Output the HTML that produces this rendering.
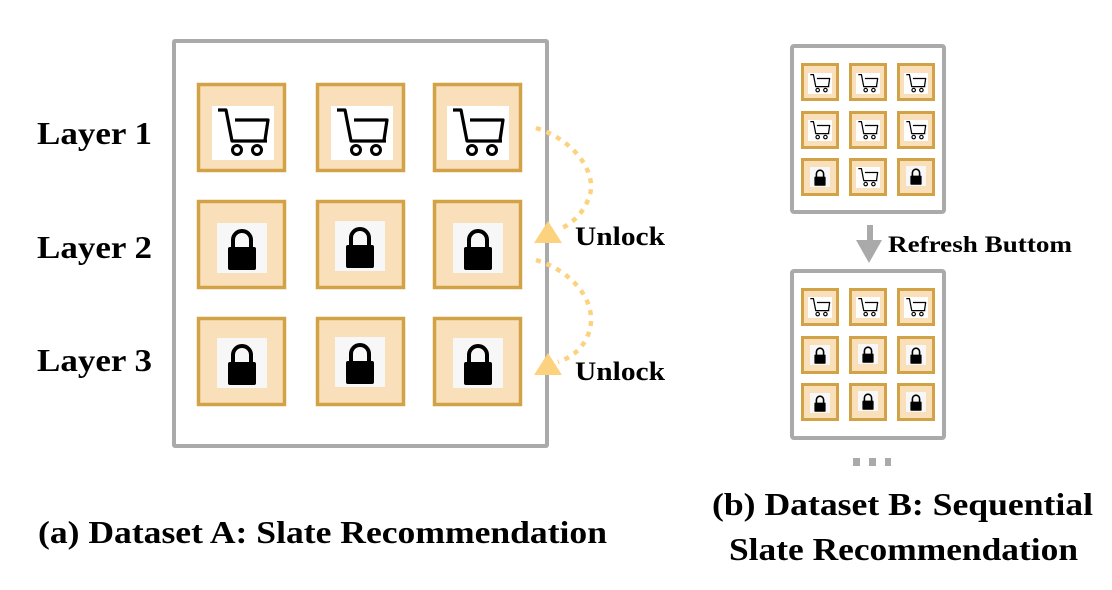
<!DOCTYPE html>
<html><head><meta charset="utf-8"><style>
html,body{margin:0;padding:0;background:#fff;}
svg{display:block;}
text{font-family:"Liberation Serif",serif;font-weight:bold;fill:#000;}
</style></head><body>
<svg width="1112" height="590" viewBox="0 0 1112 590" xmlns="http://www.w3.org/2000/svg">
<defs>
<symbol id="cart" viewBox="0 0 62 54">
<rect width="62" height="54" fill="#fff"/>
<path d="M6,4 H14 L20,35 H55 M23,14 H56 L53,34" fill="none" stroke="#000" stroke-width="3.2" stroke-linejoin="round"/>
<circle cx="25" cy="44" r="4.5" fill="none" stroke="#000" stroke-width="3"/>
<circle cx="45" cy="44" r="4.5" fill="none" stroke="#000" stroke-width="3"/>
</symbol>
<symbol id="lock" viewBox="0 0 50 50">
<rect width="50" height="50" fill="#f7f7f7"/>
<path d="M16,25 V17 A9,9 0 0 1 34,17 V25" fill="none" stroke="#000" stroke-width="4"/>
<rect x="11" y="24" width="28" height="23" rx="2" fill="#000"/>
</symbol>
<g id="bt"><rect x="1.5" y="1.5" width="86" height="86" fill="#fadfbb" stroke="#d1a346" stroke-width="3.5"/></g>
<g id="st"><rect x="1.5" y="1.5" width="35" height="35" fill="#fadfbb" stroke="#d1a346" stroke-width="3"/></g>
</defs>

<rect x="174" y="41" width="373" height="405" fill="none" stroke="#aaa" stroke-width="4" rx="1"/>
<g>
<use href="#bt" x="197" y="83"/><use href="#cart" x="212" y="106" width="62" height="54"/>
<use href="#bt" x="316" y="83"/><use href="#cart" x="331" y="106" width="62" height="54"/>
<use href="#bt" x="433" y="83"/><use href="#cart" x="447" y="106" width="62" height="54"/>
<use href="#bt" x="197" y="200"/><use href="#lock" x="217" y="223" width="50" height="50"/>
<use href="#bt" x="316" y="200"/><use href="#lock" x="335" y="220" width="50" height="52"/>
<use href="#bt" x="433" y="200"/><use href="#lock" x="453" y="223" width="50" height="50"/>
<use href="#bt" x="197" y="317"/><use href="#lock" x="217" y="338" width="50" height="50"/>
<use href="#bt" x="316" y="317"/><use href="#lock" x="335" y="336" width="50" height="52"/>
<use href="#bt" x="433" y="317"/><use href="#lock" x="453" y="338" width="50" height="50"/>
</g>

<path d="M536,128 C575,140 600,175 588,200 C582,215 570,225 558,230" fill="none" stroke="#fdd27e" stroke-width="4.5" stroke-dasharray="5,6"/>
<polygon points="548,221 534,243 562,243" fill="#fdd27e"/>
<path d="M536,260 C575,272 600,305 588,335 C582,350 570,358 558,362" fill="none" stroke="#fdd27e" stroke-width="4.5" stroke-dasharray="5,6"/>
<polygon points="548,353 534,375 562,375" fill="#fdd27e"/>

<text x="575" y="245" font-size="26" textLength="90" lengthAdjust="spacingAndGlyphs">Unlock</text>
<text x="575" y="380" font-size="26" textLength="90" lengthAdjust="spacingAndGlyphs">Unlock</text>

<text x="37" y="144" font-size="32" textLength="115" lengthAdjust="spacingAndGlyphs">Layer 1</text>
<text x="37" y="258" font-size="32" textLength="115" lengthAdjust="spacingAndGlyphs">Layer 2</text>
<text x="37" y="371" font-size="32" textLength="115" lengthAdjust="spacingAndGlyphs">Layer 3</text>

<text x="38" y="543" font-size="32" textLength="569" lengthAdjust="spacingAndGlyphs">(a) Dataset A: Slate Recommendation</text>

<rect x="792" y="46" width="152" height="166" fill="none" stroke="#aaa" stroke-width="4" rx="2"/>
<g>
<use href="#st" x="801" y="63"/><use href="#cart" x="808" y="73" width="24" height="21"/>
<use href="#st" x="849" y="63"/><use href="#cart" x="856" y="73" width="24" height="21"/>
<use href="#st" x="897" y="63"/><use href="#cart" x="904" y="73" width="24" height="21"/>
<use href="#st" x="801" y="111"/><use href="#cart" x="808" y="120" width="24" height="21"/>
<use href="#st" x="849" y="111"/><use href="#cart" x="856" y="120" width="24" height="21"/>
<use href="#st" x="897" y="111"/><use href="#cart" x="904" y="120" width="24" height="21"/>
<use href="#st" x="801" y="158"/><use href="#lock" x="810" y="167" width="20" height="20"/>
<use href="#st" x="849" y="158"/><use href="#cart" x="856" y="167" width="24" height="21"/>
<use href="#st" x="897" y="158"/><use href="#lock" x="906" y="166" width="20" height="20"/>
</g>

<rect x="867" y="225" width="6" height="16" fill="#aaa"/>
<polygon points="856,240 882,240 869,263" fill="#aaa"/>
<text x="888" y="252" font-size="23" textLength="184" lengthAdjust="spacingAndGlyphs">Refresh Buttom</text>

<rect x="792" y="271" width="152" height="167" fill="none" stroke="#aaa" stroke-width="4" rx="2"/>
<g>
<use href="#st" x="801" y="288"/><use href="#cart" x="808" y="297" width="24" height="21"/>
<use href="#st" x="849" y="288"/><use href="#cart" x="856" y="297" width="24" height="21"/>
<use href="#st" x="897" y="288"/><use href="#cart" x="904" y="297" width="24" height="21"/>
<use href="#st" x="801" y="336"/><use href="#lock" x="810" y="345" width="20" height="20"/>
<use href="#st" x="849" y="336"/><use href="#lock" x="858" y="344" width="20" height="20"/>
<use href="#st" x="897" y="336"/><use href="#lock" x="906" y="345" width="20" height="20"/>
<use href="#st" x="801" y="383"/><use href="#lock" x="810" y="393" width="20" height="20"/>
<use href="#st" x="849" y="383"/><use href="#lock" x="858" y="391" width="20" height="20"/>
<use href="#st" x="897" y="383"/><use href="#lock" x="906" y="392" width="20" height="20"/>
</g>

<rect x="853" y="458" width="7" height="8" fill="#aaa"/>
<rect x="869" y="458" width="7" height="8" fill="#aaa"/>
<rect x="885" y="458" width="6" height="8" fill="#aaa"/>

<text x="712" y="515" font-size="32" textLength="381" lengthAdjust="spacingAndGlyphs">(b) Dataset B: Sequential</text>
<text x="729" y="560" font-size="32" textLength="349" lengthAdjust="spacingAndGlyphs">Slate Recommendation</text>
</svg>
</body></html>
